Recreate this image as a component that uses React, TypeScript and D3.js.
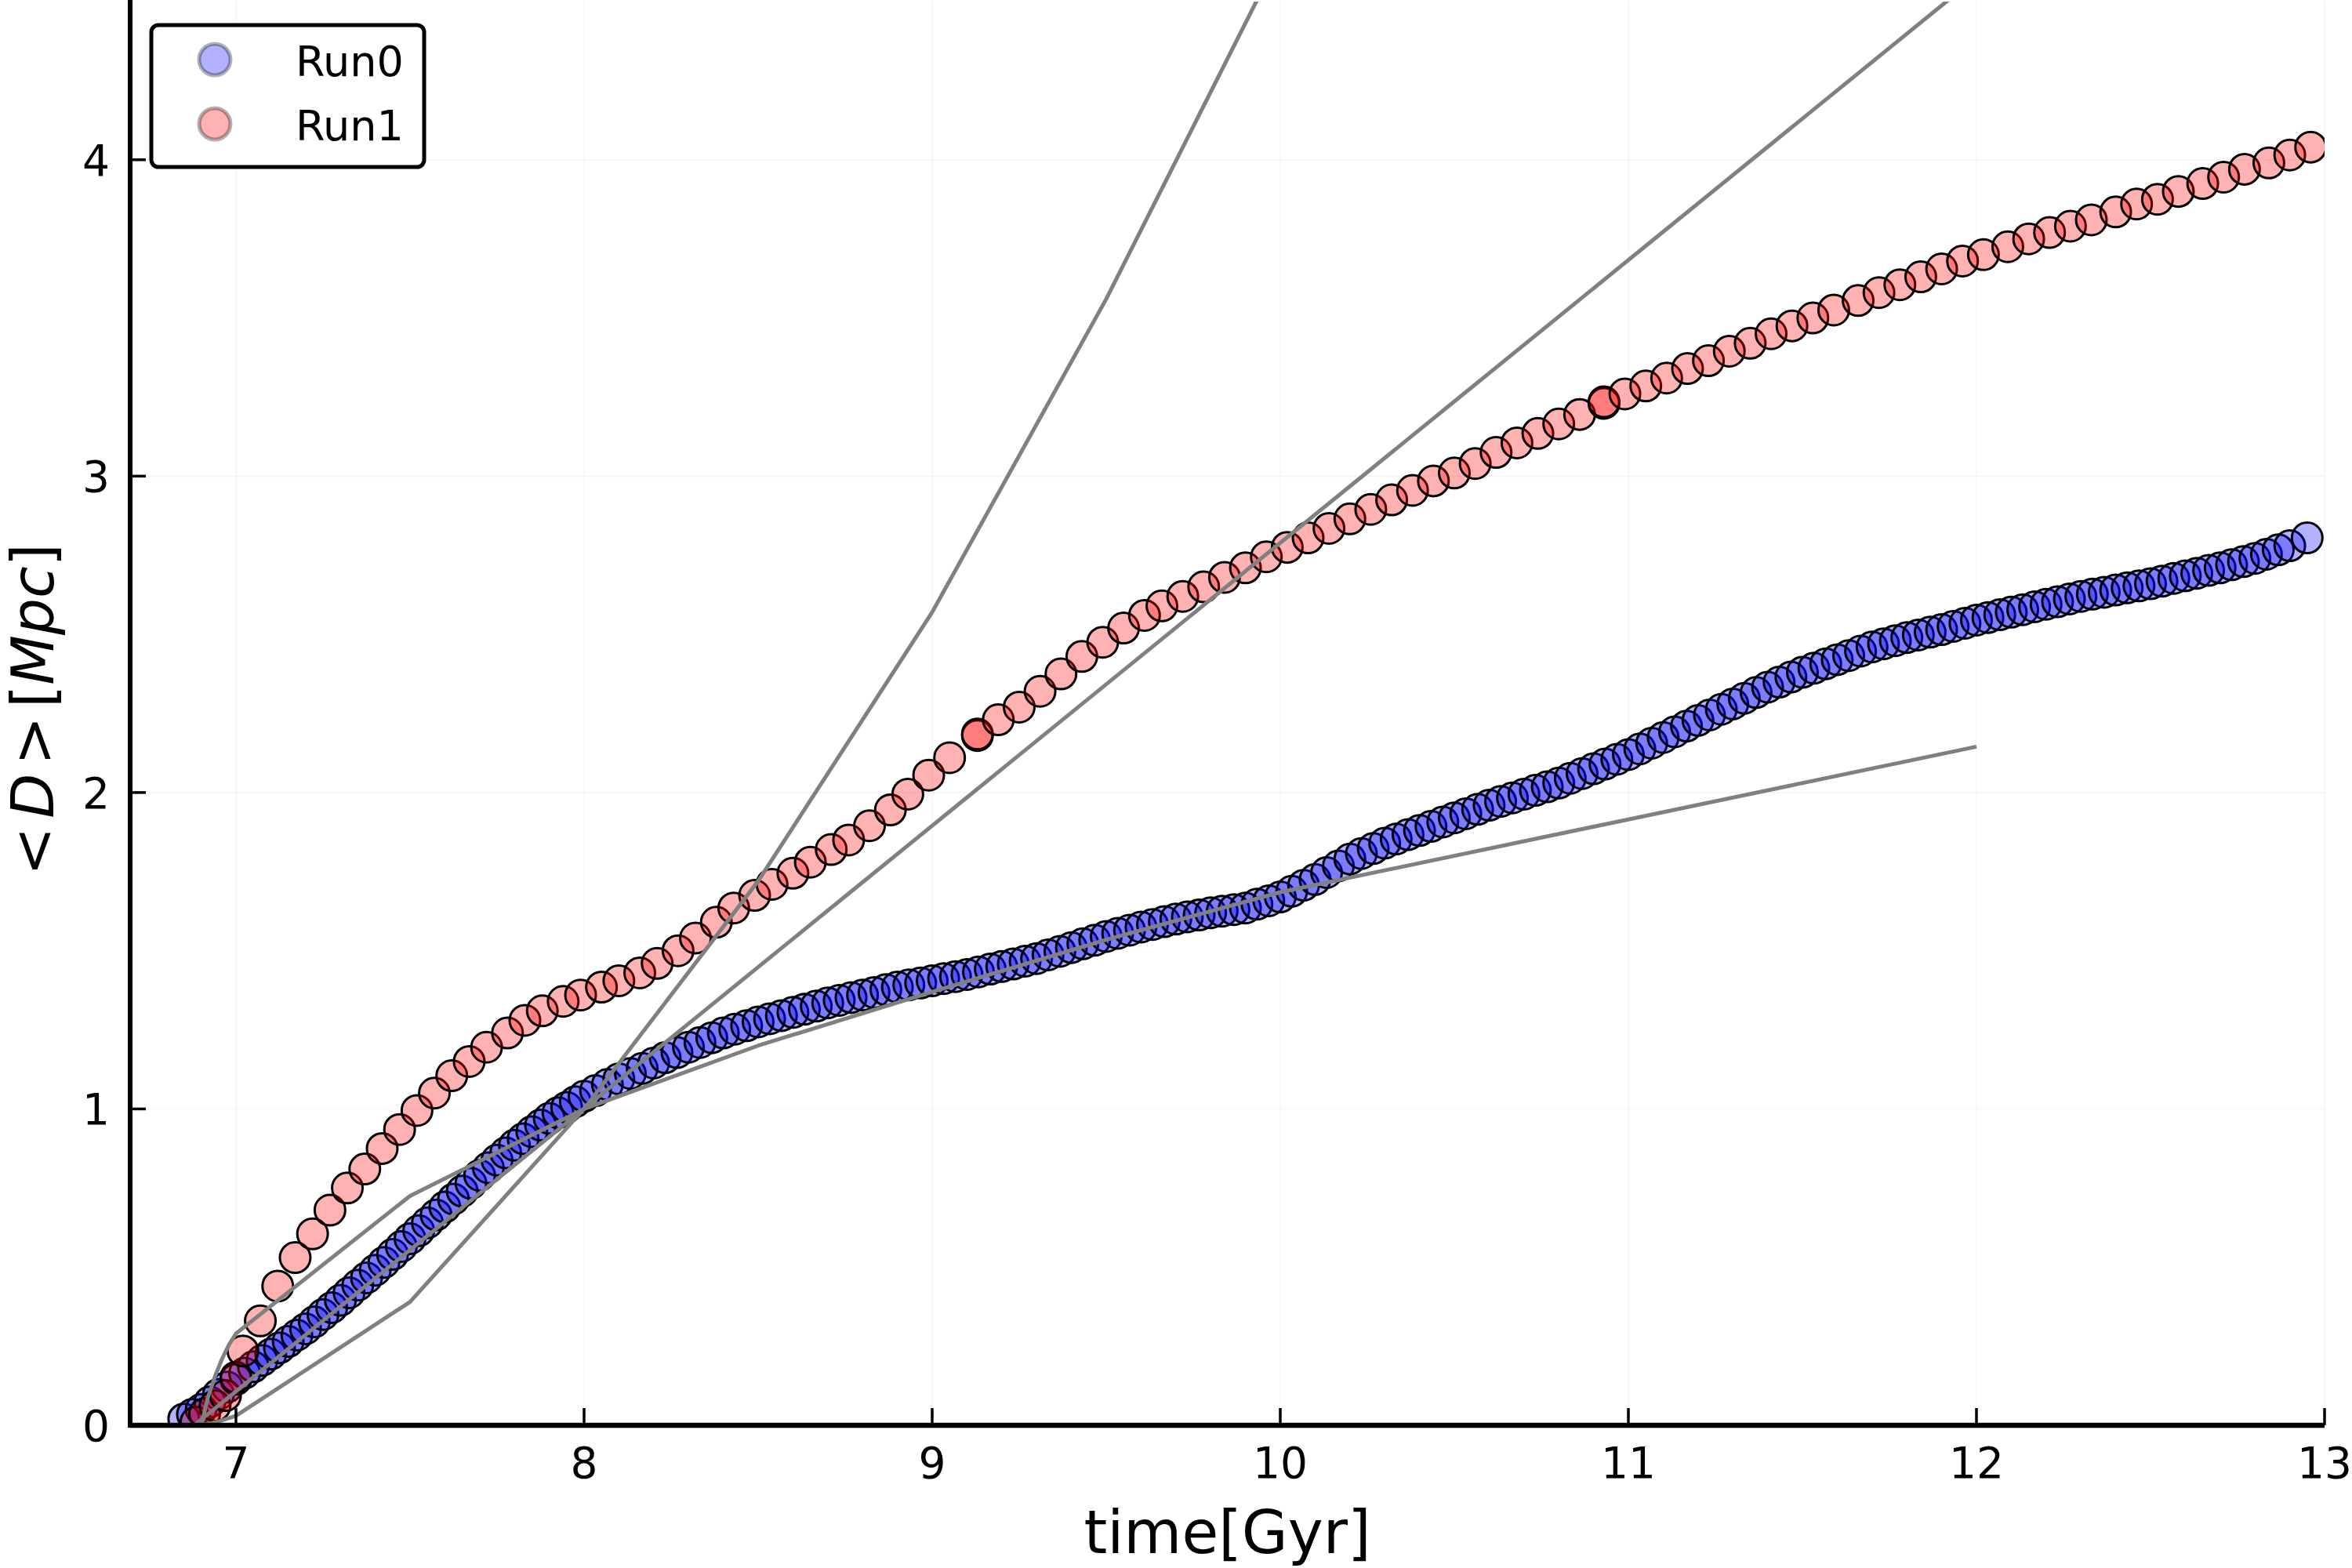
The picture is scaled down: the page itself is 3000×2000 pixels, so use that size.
import * as d3 from "d3";

// <D>(t) for the two runs, [time Gyr, mean distance Mpc]
const run0: [number, number][] = [
  [6.85, 0.02], [6.875, 0.035], [6.9, 0.05], [6.925, 0.074], [6.95, 0.098], [6.975, 0.121],
  [7.0, 0.145], [7.025, 0.165], [7.05, 0.185], [7.075, 0.205], [7.1, 0.225], [7.125, 0.245],
  [7.15, 0.265], [7.175, 0.285], [7.2, 0.305], [7.225, 0.327], [7.25, 0.35], [7.275, 0.372],
  [7.3, 0.395], [7.325, 0.419], [7.35, 0.443], [7.375, 0.466], [7.4, 0.49], [7.425, 0.515],
  [7.45, 0.54], [7.475, 0.565], [7.5, 0.59], [7.525, 0.615], [7.55, 0.64], [7.575, 0.665],
  [7.6, 0.69], [7.625, 0.715], [7.65, 0.74], [7.675, 0.765], [7.7, 0.79], [7.725, 0.814],
  [7.75, 0.838], [7.775, 0.861], [7.8, 0.885], [7.825, 0.906], [7.85, 0.928], [7.875, 0.949],
  [7.9, 0.97], [7.925, 0.988], [7.95, 1.005], [7.975, 1.023],
  [8.0, 1.04], [8.033, 1.058], [8.067, 1.077], [8.1, 1.095], [8.133, 1.112], [8.167, 1.128],
  [8.2, 1.145], [8.233, 1.162], [8.267, 1.178], [8.3, 1.195], [8.333, 1.21], [8.367, 1.225],
  [8.4, 1.24], [8.433, 1.252], [8.467, 1.263], [8.5, 1.275], [8.533, 1.285], [8.567, 1.295],
  [8.6, 1.305], [8.633, 1.315], [8.667, 1.325], [8.7, 1.335], [8.733, 1.343], [8.767, 1.352],
  [8.8, 1.36], [8.833, 1.368], [8.867, 1.377], [8.9, 1.385], [8.933, 1.392], [8.967, 1.398],
  [9.0, 1.405], [9.033, 1.412], [9.067, 1.418], [9.1, 1.425], [9.133, 1.433], [9.167, 1.442],
  [9.2, 1.45], [9.233, 1.458], [9.267, 1.467], [9.3, 1.475], [9.333, 1.487], [9.367, 1.498],
  [9.4, 1.51], [9.433, 1.522], [9.467, 1.533], [9.5, 1.545], [9.533, 1.555], [9.567, 1.565],
  [9.6, 1.575], [9.633, 1.583], [9.667, 1.592], [9.7, 1.6], [9.733, 1.607], [9.767, 1.613],
  [9.8, 1.62], [9.833, 1.625], [9.867, 1.63], [9.9, 1.635], [9.933, 1.647], [9.967, 1.658],
  [10.0, 1.67], [10.033, 1.688], [10.067, 1.707], [10.1, 1.725], [10.133, 1.747], [10.167, 1.768],
  [10.2, 1.79], [10.233, 1.807], [10.267, 1.823], [10.3, 1.84], [10.333, 1.853], [10.367, 1.867],
  [10.4, 1.88], [10.433, 1.893], [10.467, 1.907], [10.5, 1.92], [10.533, 1.933], [10.567, 1.947],
  [10.6, 1.96], [10.633, 1.972], [10.667, 1.983], [10.7, 1.995], [10.733, 2.007], [10.767, 2.018],
  [10.8, 2.03], [10.833, 2.045], [10.867, 2.06], [10.9, 2.075], [10.933, 2.09], [10.967, 2.105],
  [11.0, 2.12], [11.033, 2.138], [11.067, 2.156], [11.1, 2.174], [11.133, 2.192], [11.167, 2.21],
  [11.2, 2.228], [11.233, 2.245], [11.267, 2.263], [11.3, 2.28], [11.333, 2.298], [11.367, 2.316],
  [11.4, 2.333], [11.433, 2.349], [11.467, 2.365], [11.5, 2.38], [11.533, 2.393], [11.567, 2.407],
  [11.6, 2.42], [11.633, 2.433], [11.667, 2.447], [11.7, 2.46], [11.733, 2.47], [11.767, 2.48],
  [11.8, 2.49], [11.833, 2.498], [11.867, 2.507], [11.9, 2.515], [11.933, 2.525], [11.967, 2.535],
  [12.0, 2.545], [12.033, 2.553], [12.067, 2.562], [12.1, 2.57], [12.133, 2.578], [12.167, 2.587],
  [12.2, 2.595], [12.233, 2.603], [12.267, 2.612], [12.3, 2.62], [12.333, 2.627], [12.367, 2.633],
  [12.4, 2.64], [12.433, 2.647], [12.467, 2.653], [12.5, 2.66], [12.533, 2.668], [12.567, 2.677],
  [12.6, 2.685], [12.633, 2.693], [12.667, 2.702], [12.7, 2.71], [12.733, 2.72], [12.767, 2.73],
  [12.8, 2.74], [12.833, 2.753], [12.867, 2.767], [12.9, 2.78], [12.95, 2.805],
];

const run1: [number, number][] = [
  [6.885, 0.01], [6.91, 0.037], [6.94, 0.062], [6.97, 0.094], [7.0, 0.152], [7.02, 0.235],
  [7.07, 0.33], [7.12, 0.44], [7.17, 0.53], [7.22, 0.605], [7.27, 0.68], [7.32, 0.75],
  [7.37, 0.81], [7.42, 0.875], [7.47, 0.935], [7.52, 0.995], [7.57, 1.05], [7.62, 1.105],
  [7.67, 1.15], [7.72, 1.195], [7.78, 1.24], [7.83, 1.28], [7.88, 1.31], [7.94, 1.34],
  [7.99, 1.36], [8.05, 1.385], [8.1, 1.405], [8.16, 1.43], [8.21, 1.46], [8.27, 1.5],
  [8.32, 1.54], [8.38, 1.59], [8.43, 1.635], [8.49, 1.675], [8.54, 1.71], [8.6, 1.745],
  [8.65, 1.78], [8.71, 1.82], [8.76, 1.85], [8.82, 1.895], [8.88, 1.945], [8.93, 1.995],
  [8.99, 2.055], [9.05, 2.11], [9.13, 2.18], [9.13, 2.185], [9.19, 2.23], [9.25, 2.27],
  [9.31, 2.32], [9.37, 2.375], [9.43, 2.43], [9.49, 2.475], [9.55, 2.52], [9.61, 2.56],
  [9.66, 2.59], [9.72, 2.62], [9.78, 2.65], [9.84, 2.68], [9.9, 2.71], [9.96, 2.745],
  [10.02, 2.775], [10.08, 2.805], [10.14, 2.835], [10.2, 2.865], [10.26, 2.895], [10.32, 2.925],
  [10.38, 2.955], [10.44, 2.985], [10.5, 3.01], [10.56, 3.04], [10.62, 3.075], [10.68, 3.105],
  [10.74, 3.135], [10.8, 3.165], [10.86, 3.195], [10.93, 3.23], [10.93, 3.235], [10.99, 3.26],
  [11.05, 3.285], [11.11, 3.31], [11.17, 3.34], [11.23, 3.365], [11.29, 3.395], [11.35, 3.42],
  [11.41, 3.45], [11.47, 3.475], [11.53, 3.5], [11.59, 3.525], [11.66, 3.555], [11.72, 3.58],
  [11.78, 3.605], [11.84, 3.63], [11.9, 3.655], [11.96, 3.68], [12.02, 3.7], [12.09, 3.725],
  [12.15, 3.75], [12.21, 3.77], [12.27, 3.79], [12.33, 3.81], [12.4, 3.835], [12.46, 3.86],
  [12.52, 3.875], [12.58, 3.9], [12.65, 3.925], [12.71, 3.945], [12.77, 3.97], [12.84, 3.99],
  [12.9, 4.015], [12.96, 4.04],
];

// grey model curves
const fitSlow: [number, number][] = [
  [6.9, 0], [6.92, 0.09], [6.94, 0.155], [6.96, 0.21], [6.98, 0.255], [7.0, 0.29],
  [7.5, 0.725], [8.0, 1.0], [8.5, 1.2], [9.0, 1.37], [9.5, 1.535], [10.0, 1.685], [12.0, 2.145],
];
const fitFast: [number, number][] = [
  [6.9, 0], [6.95, 0.012], [7.0, 0.03], [7.5, 0.39], [8.0, 1.0], [8.5, 1.72],
  [9.0, 2.57], [9.5, 3.56], [10.0, 4.65],
];
const fitLinear: [number, number][] = [[6.88, 0], [12.0, 4.577]];

const series = [
  { name: "Run0", color: "#0000ff", data: run0 },
  { name: "Run1", color: "#ff0000", data: run1 },
];
const fits = [fitSlow, fitFast, fitLinear];

const xTicks = [7, 8, 9, 10, 11, 12, 13];
const yTicks = [0, 1, 2, 3, 4];

const W = 3000;
const H = 2000;
const left = 166, right = 2965, top = 2, bottom = 1818;
const font = "'DejaVu Sans', sans-serif";

export default function App() {
  const x = d3.scaleLinear([6.696, 13], [left, right]);
  const y = d3.scaleLinear([0, 4.5], [bottom, top]);
  const line = d3.line<[number, number]>().x(d => x(d[0])).y(d => y(d[1]));

  return (
    <svg width={W} height={H} style={{ position: "absolute", left: 0, top: 0, background: "white" }}>
      <defs>
        <clipPath id="plot-area">
          <rect x={left} y={top} width={right - left} height={bottom - top} />
        </clipPath>
      </defs>
      <rect width={W} height={H} fill="white" />

      {/* faint grid */}
      <g stroke="#000" strokeOpacity={0.04} strokeWidth={1.6}>
        {xTicks.map(t => <line key={`gx${t}`} x1={x(t)} x2={x(t)} y1={top} y2={bottom} />)}
        {yTicks.map(t => <line key={`gy${t}`} x1={left} x2={right} y1={y(t)} y2={y(t)} />)}
      </g>

      {/* markers, then the grey curves on top */}
      <g clipPath="url(#plot-area)">
        {series.map(s => (
          <g key={s.name}>
            {s.data.map((d, i) => (
              <circle key={i} cx={x(d[0])} cy={y(d[1])} r={19.5}
                fill={s.color} fillOpacity={0.3} stroke="#000" strokeWidth={3} />
            ))}
          </g>
        ))}
        {fits.map((f, i) => (
          <path key={i} d={line(f) ?? ""} fill="none" stroke="#808080" strokeWidth={5}
            strokeLinejoin="round" />
        ))}
      </g>

      {/* axes */}
      <line x1={left} x2={right} y1={bottom} y2={bottom} stroke="#000" strokeWidth={6.5} />
      <line x1={left} x2={left} y1={top - 2} y2={bottom + 3} stroke="#000" strokeWidth={6} />
      {xTicks.map(t => (
        <g key={`tx${t}`}>
          <line x1={x(t)} x2={x(t)} y1={bottom} y2={bottom - 22} stroke="#000" strokeWidth={3.5} />
          <text x={x(t)} y={1885} textAnchor="middle" fontFamily={font} fontSize={55}>{t}</text>
        </g>
      ))}
      {yTicks.map(t => (
        <g key={`ty${t}`}>
          <line x1={left} x2={left + 20} y1={y(t)} y2={y(t)} stroke="#000" strokeWidth={3.5} />
          <text x={140} y={y(t) + 20} textAnchor="end" fontFamily={font} fontSize={55}>{t}</text>
        </g>
      ))}

      {/* axis titles */}
      <text x={(left + right) / 2} y={1981} textAnchor="middle" fontFamily={font} fontSize={76}>
        time[Gyr]
      </text>
      <text transform="translate(68,905) rotate(-90)" textAnchor="middle" fontFamily={font} fontSize={74}>
        <tspan>&lt;</tspan>
        <tspan dx={11} fontStyle="italic">D</tspan>
        <tspan dx={11}>&gt;</tspan>
        <tspan dx={11}>[</tspan>
        <tspan fontStyle="italic">Mpc</tspan>
        <tspan>]</tspan>
      </text>

      {/* legend */}
      <rect x={193} y={32} width={348} height={181} rx={9} fill="white" stroke="#000" strokeWidth={5} />
      {series.map((s, i) => (
        <g key={`lg${s.name}`}>
          <circle cx={274} cy={76 + i * 82} r={20} fill={s.color} fillOpacity={0.3}
            stroke="#000" strokeOpacity={0.3} strokeWidth={5} />
          <text x={377} y={97 + i * 82} fontFamily={font} fontSize={54}>{s.name}</text>
        </g>
      ))}
    </svg>
  );
}
